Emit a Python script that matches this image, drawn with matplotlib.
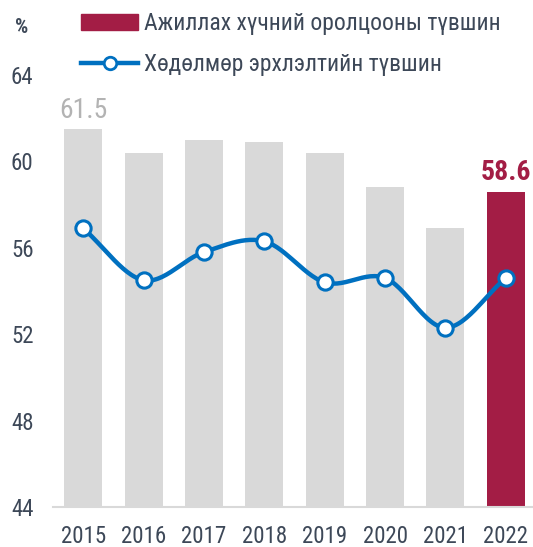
import numpy as np
import matplotlib
matplotlib.use("Agg")
import matplotlib.pyplot as plt
from matplotlib import font_manager
from matplotlib.patches import Patch
from matplotlib.lines import Line2D

years = ["2015", "2016", "2017", "2018", "2019", "2020", "2021", "2022"]
participation = [61.5, 60.4, 61.0, 60.9, 60.4, 58.8, 56.9, 58.6]
employment = [56.9, 54.5, 55.8, 56.3, 54.4, 54.6, 52.3, 54.6]
yticks = [44, 48, 52, 56, 60, 64]

names = {f.name for f in font_manager.fontManager.ttflist}
fam = [f for f in ["Roboto Condensed", "Liberation Sans Narrow", "Roboto", "DejaVu Sans"] if f in names]
plt.rcParams["font.family"] = fam

txt = "#3d4858"
grey = "#d9d9d9"
red = "#a31d45"
blue = "#0070c0"


def smooth(x, y, n=30):
    # Catmull-Rom curve through the points, only for drawing
    x = np.asarray(x, float)
    y = np.asarray(y, float)
    px = np.concatenate([[2 * x[0] - x[1]], x, [2 * x[-1] - x[-2]]])
    py = np.concatenate([[2 * y[0] - y[1]], y, [2 * y[-1] - y[-2]]])
    xs, ys = [], []
    t = np.linspace(0, 1, n)
    for i in range(1, len(px) - 2):
        for p, out in ((px, xs), (py, ys)):
            p0, p1, p2, p3 = p[i - 1], p[i], p[i + 1], p[i + 2]
            out.extend(0.5 * ((2 * p1) + (-p0 + p2) * t
                              + (2 * p0 - 5 * p1 + 4 * p2 - p3) * t ** 2
                              + (-p0 + 3 * p1 - 3 * p2 + p3) * t ** 3))
    return xs, ys


fig = plt.figure(figsize=(5.33, 5.47), dpi=100)
ax = fig.add_axes([0.0994, 0.0731, 0.9006, 0.7899])

x = np.arange(len(years))
colors = [grey] * (len(years) - 1) + [red]
ax.bar(x, [v - 44 for v in participation], bottom=44, width=0.63, color=colors, zorder=1)

sx, sy = smooth(x, employment)
ax.plot(sx, sy, color=blue, lw=3.2, zorder=2, solid_capstyle="round")
ax.plot(x, employment, ls="none", marker="o", ms=11, mfc="white", mec=blue, mew=2.2, zorder=3)

ax.text(x[0], participation[0] + 0.25, f"{participation[0]}", ha="center", va="bottom",
        fontsize=20, color="#b3b3b3")
ax.text(x[-1], participation[-1] + 0.25, f"{participation[-1]}", ha="center", va="bottom",
        fontsize=20, color=red, fontweight="bold")

ax.set_xlim(-0.5, 7.45)
ax.set_ylim(44, 64)
ax.set_yticks(yticks)
ax.set_xticks(x)
ax.set_xticklabels(years)
ax.tick_params(axis="both", length=0, labelsize=16.5, colors=txt)
ax.tick_params(axis="x", pad=13)
ax.tick_params(axis="y", pad=14)
for s in ["top", "right", "left"]:
    ax.spines[s].set_visible(False)
ax.spines["bottom"].set_color("#d9d9d9")
ax.spines["bottom"].set_linewidth(1.5)

fig.text(0.041, 0.95, "%", ha="center", va="center", fontsize=15, fontweight="bold", color=txt)

handles = [Patch(color=red),
           Line2D([0], [0], color=blue, lw=3.2, marker="o", ms=9, mfc="white", mec=blue, mew=2)]
labels = ["Ажиллах хүчний оролцооны түвшин", "Хөдөлмөр эрхлэлтийн түвшин"]
fig.legend(handles, labels, loc="upper left", bbox_to_anchor=(0.135, 0.995), frameon=False,
           fontsize=17, labelcolor=txt, handlelength=2.4, handleheight=0.65,
           handletextpad=0.25, labelspacing=0.75, borderaxespad=0)

fig.savefig("out.png", dpi=100)
